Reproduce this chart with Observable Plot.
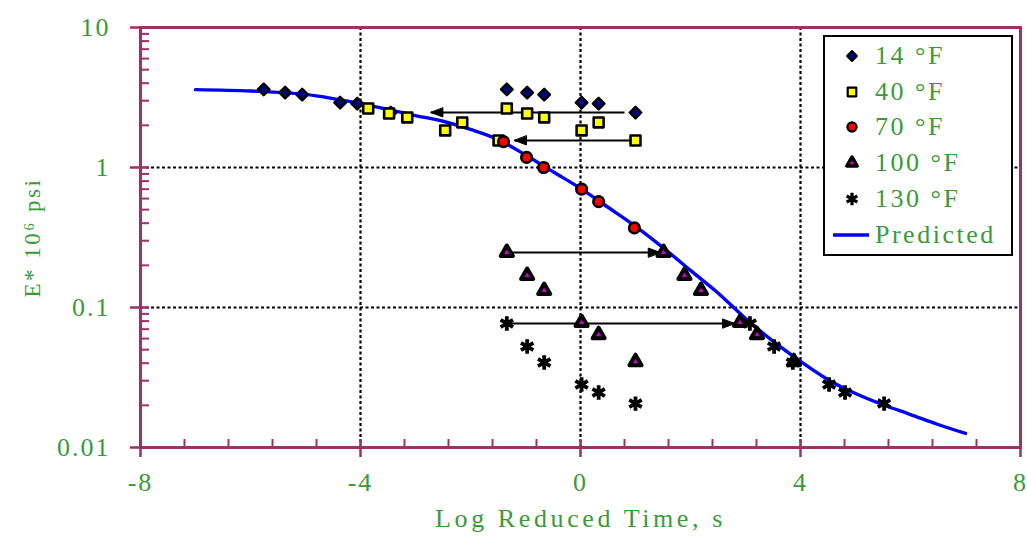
<!DOCTYPE html>
<html>
<head>
<meta charset="utf-8">
<script src="https://cdn.jsdelivr.net/npm/d3@7"></script>
<script src="https://cdn.jsdelivr.net/npm/@observablehq/plot@0.6"></script>
<style>
  body { margin: 0; background: #fff; }
  #wrap { position: relative; width: 1027px; height: 538px; }
  .legend {
    position: absolute; left: 823px; top: 35px; width: 190px; height: 221px;
    box-sizing: border-box; border: 2.5px solid #000; background: #fff;
    font-family: "Liberation Serif", "Times New Roman", serif; font-size: 26px;
    letter-spacing: 2.5px; color: #3a9a3a; padding-top: 1px;
  }
  .legend .row { display: flex; align-items: center; height: 35.8px; }
  .legend svg { width: 44px; height: 24px; flex: none; margin-right: 6px; }
</style>
</head>
<body>
<div id="wrap"></div>
<script>
// Dynamic modulus master curve at 70 °F reference temperature
const temps = ["14 °F", "40 °F", "70 °F", "100 °F", "130 °F"];

// log of loading time for the six test frequencies (25, 10, 5, 1, 0.5, 0.1 Hz)
const logTime = [-1.34, -0.97, -0.66, 0.02, 0.33, 1.0];

// measured |E*| (10^6 psi) at each temperature
const e14 = [3.61, 3.43, 3.32, 2.91, 2.86, 2.47];
const e40 = [2.64, 2.43, 2.28, 1.84, 2.10, 1.56];
const e70 = [1.53, 1.18, 1.0, 0.70, 0.57, 0.37];
const e100 = [0.247, 0.169, 0.132, 0.078, 0.064, 0.041];
const e130 = [0.0769, 0.0527, 0.0405, 0.0282, 0.0247, 0.0206];

// log reduced time after shifting to the reference temperature
const r14 = [-5.76, -5.37, -5.06, -4.37, -4.06, -3.45];
const r40 = [-3.86, -3.48, -3.15, -2.46, -2.15, -1.49];
const r70 = [-1.4, -0.98, -0.67, 0.02, 0.33, 0.98];
const r100 = [1.51, 1.89, 2.19, 2.9, 3.21, 3.88];
const r130 = [3.08, 3.52, 3.86, 4.52, 4.81, 5.52];

// predicted master curve
const predX = [-7, -6, -5, -4, -3.5, -3, -2.5, -2, -1.5, -1, -0.5, 0, 0.5, 1, 1.5, 2, 2.5, 3, 3.5, 4, 4.5, 5, 5.5, 6, 6.5, 7];
const predE = [3.6, 3.52, 3.33, 2.86, 2.6, 2.35, 2.14, 1.87, 1.585, 1.23, 0.933, 0.71, 0.52, 0.38, 0.268, 0.184, 0.127, 0.0835, 0.0575, 0.0412, 0.0305, 0.0243, 0.0202, 0.0172, 0.0146, 0.0126];

// shift arrows: from measured to reduced position
const arrowFrom = [0.8, 1.0, -1.33, -1.33];
const arrowTo = [-2.72, -1.2, 1.45, 2.8];
const arrowE = [2.47, 1.56, 0.247, 0.077];

// axes
const xTicks = [-8, -4, 0, 4, 8];
const xTickLabels = ["-8", "-4", "0", "4", "8"];
const xMinor = [-7.2, -6.4, -5.6, -4.8, -3.2, -2.4, -1.6, -0.8, 0.8, 1.6, 2.4, 3.2, 4.8, 5.6, 6.4, 7.2];
const yTicks = [0.01, 0.1, 1, 10];
const yTickLabels = ["0.01", "0.1", "1", "10"];
const yMinorDigits = [2, 3, 4, 5, 6, 7, 8, 9];
const xGrid = [-4, 0, 4];
const yGrid = [0.1, 1];

const maroon = "#993366";
const green = "#3a9a3a";
const serif = "'Liberation Serif', 'Times New Roman', serif";

const yMinor = [0.01, 0.1, 1].flatMap(d => yMinorDigits.map(k => k * d));

const series = [
  {name: temps[0], t: logTime, r: r14, e: e14, symbol: "diamond2", fill: "#000080", r0: 5.2, sw: 2.4},
  {name: temps[1], t: logTime, r: r40, e: e40, symbol: "square", fill: "#ffff00", r0: 5.6, sw: 2.6},
  {name: temps[2], t: null, r: r70, e: e70, symbol: "circle", fill: "#ff0000", r0: 5.3, sw: 2.6},
  {name: temps[3], t: logTime, r: r100, e: e100, symbol: "triangle", fill: "#cc00cc", r0: 4.5, sw: 4},
  {name: temps[4], t: logTime, r: r130, e: e130, symbol: "asterisk", fill: "none", r0: 6.8, sw: 3.8}
];

const pred = predX.map((x, i) => ({x, e: predE[i]}));
const arrows = arrowFrom.map((x1, i) => ({x1, x2: arrowTo[i], e: arrowE[i]}));

const headShape = {
  draw(context, l) {
    context.moveTo(0, -l);
    context.lineTo(-4.5, 0);
    context.lineTo(4.5, 0);
    context.closePath();
  }
};

const dotMarks = [];
for (const s of series) {
  const pts = [];
  if (s.t) s.t.forEach((x, i) => pts.push({x, e: s.e[i]}));
  s.r.forEach((x, i) => pts.push({x, e: s.e[i]}));
  const isStroke = s.symbol === "asterisk";
  dotMarks.push(Plot.dot(pts, {
    x: "x", y: "e", symbol: s.symbol, r: s.r0,
    fill: isStroke ? "none" : s.fill,
    stroke: "#000", strokeWidth: s.sw, strokeLinejoin: "round"
  }));
}

const chart = Plot.plot({
  width: 1027,
  height: 538,
  marginLeft: 140,
  marginRight: 7,
  marginTop: 27,
  marginBottom: 91,
  x: {domain: [-8, 8], axis: null},
  y: {type: "log", domain: [0.01, 10], axis: null},
  style: {fontFamily: serif, background: "#fff", letterSpacing: "2px"},
  marks: [
    Plot.ruleX(xGrid, {x: d => d, stroke: "#000", strokeWidth: 2.2, strokeDasharray: "3,2.5"}),
    Plot.ruleY(yGrid, {y: d => d, stroke: "#000", strokeWidth: 2.2, strokeDasharray: "3,2.5"}),
    Plot.line(pred, {x: "x", y: "e", stroke: "#0000ff", strokeWidth: 3.4, curve: "monotone-x"}),
    Plot.link(arrows, {x1: "x1", x2: "x2", y1: "e", y2: "e", stroke: "#000", strokeWidth: 2}),
    Plot.vector(arrows, {
      x: "x2", y: "e", length: 12, anchor: "end", shape: headShape,
      rotate: d => (d.x2 > d.x1 ? 90 : -90), fill: "#000", stroke: "#000", strokeWidth: 1
    }),
    ...dotMarks,
    Plot.frame({stroke: maroon, strokeWidth: 3}),
    Plot.tickX(xMinor, {x: d => d, stroke: maroon, strokeWidth: 2, insetTop: 412}),
    Plot.tickX(xTicks, {x: d => d, stroke: maroon, strokeWidth: 2.5, insetTop: 412, insetBottom: -10}),
    Plot.tickY(yMinor, {y: d => d, stroke: maroon, strokeWidth: 2, insetRight: 871}),
    Plot.tickY(yTicks, {y: d => d, stroke: maroon, strokeWidth: 2.5, insetRight: 871, insetLeft: -10}),
    Plot.text(xTicks, {x: d => d, text: (d, i) => xTickLabels[i], frameAnchor: "bottom", dy: 43, fill: green, fontSize: 26}),
    Plot.text(yTicks, {y: d => d, text: (d, i) => yTickLabels[i], frameAnchor: "left", dx: -30, textAnchor: "end", fill: green, fontSize: 26}),
    Plot.text(["Log Reduced Time, s"], {frameAnchor: "bottom", dy: 79, fill: green, fontSize: 26, text: d => d, className: "xlabel"}),
    Plot.text(["E* 10\u2076 psi"], {frameAnchor: "left", dx: -108, rotate: -90, textAnchor: "middle", fill: green, fontSize: 23, text: d => d, className: "ylabel"})
  ]
});

// wider tracking on the axis titles
d3.select(chart).selectAll(".xlabel text").attr("letter-spacing", "3.6px");
d3.select(chart).selectAll(".ylabel text").attr("letter-spacing", "2.5px");

const wrap = document.getElementById("wrap");
wrap.appendChild(chart);

// legend
const legend = document.createElement("div");
legend.className = "legend";
const ns = "http://www.w3.org/2000/svg";
const symbolMap = {diamond2: d3.symbolDiamond2, square: d3.symbolSquare, circle: d3.symbolCircle, triangle: d3.symbolTriangle, asterisk: d3.symbolAsterisk};
for (const s of series) {
  const row = document.createElement("div");
  row.className = "row";
  const svg = document.createElementNS(ns, "svg");
  const p = document.createElementNS(ns, "path");
  p.setAttribute("d", d3.symbol(symbolMap[s.symbol], Math.PI * s.r0 * s.r0 * 0.75)());
  p.setAttribute("transform", "translate(27,12)");
  p.setAttribute("fill", s.symbol === "asterisk" ? "none" : s.fill);
  p.setAttribute("stroke", "#000");
  p.setAttribute("stroke-width", s.sw * 0.85);
  p.setAttribute("stroke-linejoin", "round");
  svg.appendChild(p);
  row.appendChild(svg);
  const span = document.createElement("span");
  span.textContent = s.name;
  row.appendChild(span);
  legend.appendChild(row);
}
{
  const row = document.createElement("div");
  row.className = "row";
  const svg = document.createElementNS(ns, "svg");
  const l = document.createElementNS(ns, "line");
  l.setAttribute("x1", 8); l.setAttribute("x2", 44);
  l.setAttribute("y1", 12); l.setAttribute("y2", 12);
  l.setAttribute("stroke", "#0000ff"); l.setAttribute("stroke-width", 3.4);
  svg.appendChild(l);
  row.appendChild(svg);
  const span = document.createElement("span");
  span.textContent = "Predicted";
  row.appendChild(span);
  legend.appendChild(row);
}
wrap.appendChild(legend);
</script>
</body>
</html>
